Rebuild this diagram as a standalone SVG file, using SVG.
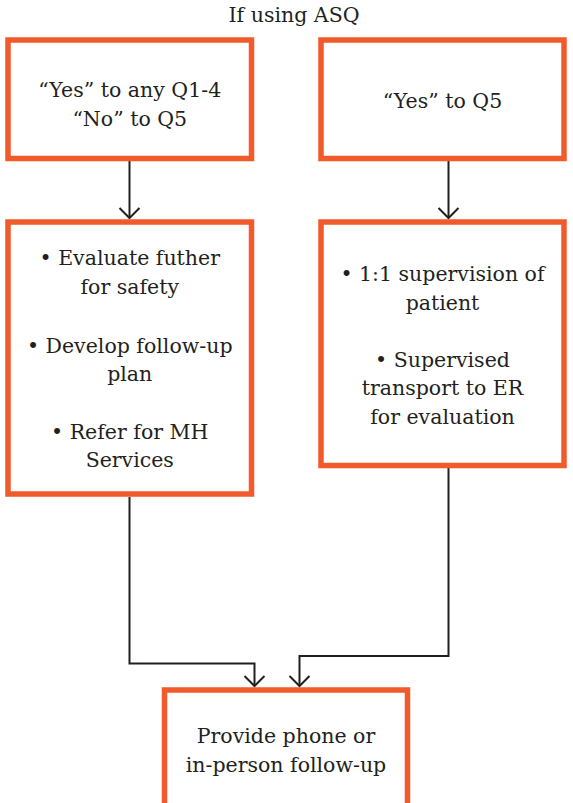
<svg xmlns="http://www.w3.org/2000/svg" width="573" height="803" viewBox="0 0 573 803">
<style>
.box{fill:#ffffff;stroke:#f15a2b;stroke-width:5.5}
.t{font-family:'DejaVu Serif',serif;font-size:20.5px;fill:#231f20;text-anchor:middle}
.c{fill:none;stroke:#231f20;stroke-width:2}
</style>
<defs>
<marker id="ah" markerUnits="userSpaceOnUse" viewBox="-12 -12 24 24" markerWidth="24" markerHeight="24" refX="0" refY="0" orient="auto">
<path d="M-10,-10 L0,0 L-10,10" fill="none" stroke="#231f20" stroke-width="2"/>
</marker>
</defs>
<rect width="573" height="803" fill="#ffffff"/>
<text class="t" x="294" y="22">If using ASQ</text>
<g id="connectors">
<path class="c" d="M129.5 161 V218" marker-end="url(#ah)"/>
<path class="c" d="M448.5 161 V218" marker-end="url(#ah)"/>
<path class="c" d="M129.5 497 V663.5 H254.5 V686" marker-end="url(#ah)"/>
<path class="c" d="M448.5 468 V656 H299.5 V686" marker-end="url(#ah)"/>
</g>
<g id="n1">
<rect class="box" x="8" y="40" width="243.5" height="118.5"/>
<text class="t" x="129.75" y="96.7">“Yes” to any Q1-4</text>
<text class="t" x="129.75" y="126">“No” to Q5</text>
</g>
<g id="n2">
<rect class="box" x="321" y="40" width="243" height="118.5"/>
<text class="t" x="442.5" y="108.3">“Yes” to Q5</text>
</g>
<g id="n3">
<rect class="box" x="8" y="222" width="243.5" height="272"/>
<text class="t" x="129.75" y="265">• Evaluate futher</text>
<text class="t" x="129.75" y="293.5">for safety</text>
<text class="t" x="129.75" y="352.5">• Develop follow-up</text>
<text class="t" x="129.75" y="380.5">plan</text>
<text class="t" x="129.75" y="438.5">• Refer for MH</text>
<text class="t" x="129.75" y="466.5">Services</text>
</g>
<g id="n4">
<rect class="box" x="321" y="222" width="243" height="243.5"/>
<text class="t" x="442.5" y="281">• 1:1 supervision of</text>
<text class="t" x="442.5" y="310">patient</text>
<text class="t" x="442.5" y="366.5">• Supervised</text>
<text class="t" x="442.5" y="395">transport to ER</text>
<text class="t" x="442.5" y="423.5">for evaluation</text>
</g>
<g id="n5">
<rect class="box" x="164.5" y="690" width="243" height="118.5"/>
<text class="t" x="286" y="743.3">Provide phone or</text>
<text class="t" x="286" y="771.7">in-person follow-up</text>
</g>
</svg>
